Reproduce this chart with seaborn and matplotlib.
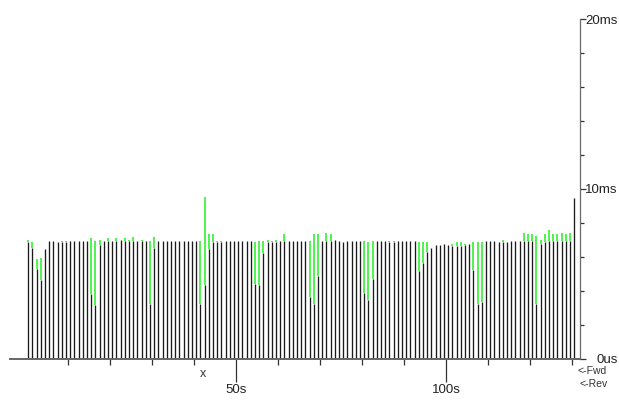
import numpy as np
import pandas as pd
import matplotlib
matplotlib.use("Agg")
import matplotlib.pyplot as plt
import seaborn as sns

# bar heights in ms, one sample per second (black part = low, green part goes up to high)
low_ms = [
    6.85, 6.53, 5.25, 4.63, 6.47, 6.92, 6.92, 6.85, 6.85, 6.85,
    6.92, 6.92, 6.92, 6.92, 6.92, 3.80, 3.15, 6.69, 6.92, 6.92,
    6.92, 6.92, 7.00, 6.92, 6.92, 6.92, 6.92, 6.92, 6.92, 3.23,
    6.53, 6.92, 6.92, 6.92, 6.92, 6.92, 6.92, 6.92, 6.92, 6.92,
    6.92, 3.23, 4.31, 6.45, 6.85, 6.85, 6.85, 6.92, 6.92, 6.92,
    6.92, 6.92, 6.92, 6.92, 4.39, 4.31, 6.24, 6.85, 6.85, 6.85,
    6.92, 6.92, 6.92, 6.92, 6.92, 6.92, 6.92, 3.62, 3.23, 4.86,
    6.92, 6.92, 6.92, 7.00, 6.92, 6.85, 6.92, 6.92, 6.92, 6.92,
    3.84, 3.47, 4.68, 6.92, 6.92, 6.92, 6.85, 6.85, 6.92, 6.92,
    6.92, 6.92, 6.92, 5.16, 5.61, 6.30, 6.53, 6.69, 6.69, 6.77,
    6.69, 6.61, 6.61, 6.61, 6.69, 6.77, 5.23, 3.23, 3.31, 6.92,
    6.92, 6.92, 6.85, 6.85, 6.85, 6.92, 6.92, 6.92, 6.92, 6.92,
    6.92, 3.23, 6.77, 6.85, 6.92, 6.92, 6.92, 6.92, 6.92, 6.92,
    9.44,
]
high_ms = [
    7.00, 6.85, 5.84, 5.92, 6.47, 6.92, 6.92, 6.85, 6.92, 6.92,
    6.92, 6.92, 6.92, 6.92, 6.92, 7.08, 6.92, 7.00, 6.92, 7.08,
    6.92, 7.08, 7.00, 7.08, 7.00, 7.16, 6.92, 7.00, 6.92, 6.92,
    7.16, 6.92, 6.92, 6.92, 6.92, 6.92, 6.92, 6.92, 6.92, 6.92,
    6.92, 6.92, 9.54, 7.32, 7.32, 6.92, 6.92, 6.92, 6.92, 6.92,
    6.92, 6.92, 6.92, 6.92, 6.85, 6.92, 6.92, 7.00, 6.92, 7.00,
    6.92, 7.32, 6.92, 6.92, 6.92, 6.92, 6.92, 6.92, 7.32, 7.32,
    6.92, 7.40, 7.32, 7.00, 6.92, 6.85, 6.92, 6.92, 6.92, 6.92,
    6.92, 6.85, 6.92, 6.92, 6.92, 6.92, 6.92, 6.92, 6.92, 6.92,
    6.92, 6.92, 6.92, 6.85, 6.85, 6.85, 6.53, 6.69, 6.69, 6.77,
    6.69, 6.77, 6.85, 6.85, 6.77, 6.77, 6.85, 6.85, 6.85, 6.92,
    6.92, 6.92, 6.85, 7.00, 6.85, 6.92, 6.92, 6.92, 7.40, 7.32,
    7.32, 7.24, 7.00, 7.32, 7.55, 7.32, 7.32, 7.40, 7.32, 7.40,
    9.44,
]
t_s = np.arange(len(low_ms)) + 0.5

x_major = [50, 100]
x_major_labels = ["50s", "100s"]
x_minor = [10, 20, 30, 40, 60, 70, 80, 90, 110, 120, 130]
y_major = [0, 10, 20]
y_major_labels = ["0us", "10ms", "20ms"]
y_minor = [2, 4, 6, 8, 12, 14, 16, 18]

sns.set_theme(style="white")
plt.rcParams["font.family"] = ["Liberation Sans", "DejaVu Sans"]

df = pd.DataFrame({"t": t_s, "low": low_ms, "high": high_ms})
jit = df[df["high"] > df["low"]]

W, H = 619, 401
fig = plt.figure(figsize=(W / 100, H / 100), dpi=100)
ax = fig.add_axes([10 / W, 1 - 358.5 / H, 570 / W, (358.5 - 19) / H])
ax.set_xlim(-3.81, 131.9)
ax.set_ylim(0, 20)

ax.vlines(df["t"], 0, df["low"], color="#1a1a1a", lw=0.95)
ax.vlines(jit["t"], jit["low"], jit["high"], color="#1ef01e", lw=1.1)

# axes look
ax.spines["top"].set_visible(False)
ax.spines["left"].set_visible(False)
ax.spines["right"].set_color("#6a6a6a")
ax.spines["right"].set_linewidth(0.9)
ax.spines["bottom"].set_color("#666666")
ax.spines["bottom"].set_linewidth(1.4)

ax.set_xticks(x_major, x_major_labels)
ax.set_xticks(x_minor, minor=True)
ax.tick_params(axis="x", which="major", bottom=True, length=16.5, width=0.9,
               color="#333333", pad=2, labelsize=9.5, labelcolor="#222222")
ax.tick_params(axis="x", which="minor", bottom=True, length=4.5, width=0.9,
               color="#333333")

ax.yaxis.tick_right()
ax.set_yticks(y_major, y_major_labels)
ax.set_yticks(y_minor, minor=True)
ax.tick_params(axis="y", which="major", right=True, left=False, length=4,
               width=0.9, color="#333333", pad=23, labelsize=9.5,
               labelcolor="#222222")
ax.tick_params(axis="y", which="minor", right=True, left=False, length=3,
               width=0.9, color="#333333")
for lbl in ax.get_yticklabels():
    lbl.set_horizontalalignment("right")

ax.grid(False)

# marker under the largest sample
imax = int(np.argmax(df["high"]))
ax.annotate("x", xy=(df["t"][imax], 0), xytext=(-1, -11),
            textcoords="offset points", ha="center", va="center",
            fontsize=9, color="#333333")

fig.text(578 / W, 1 - 371 / H, "<-Fwd", fontsize=7.5, color="#333333",
         ha="left", va="center")
fig.text(580 / W, 1 - 384 / H, "<-Rev", fontsize=7.5, color="#333333",
         ha="left", va="center")

fig.savefig("out.png", dpi=100, facecolor="white")
